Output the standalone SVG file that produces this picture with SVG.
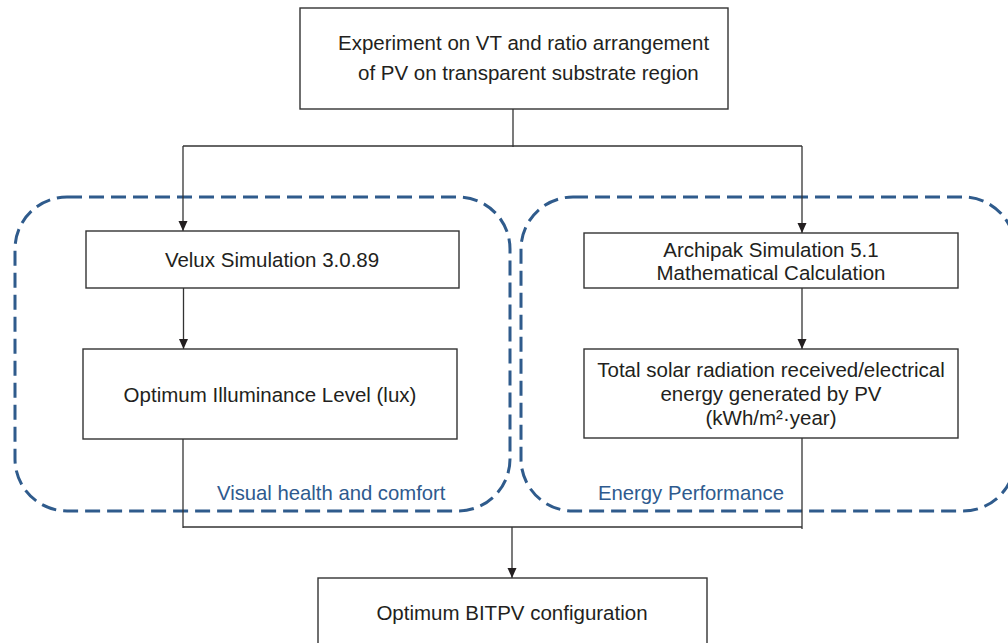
<svg xmlns="http://www.w3.org/2000/svg" width="1008" height="643" viewBox="0 0 1008 643">
<style>
.box{fill:#fff;stroke:#333;stroke-width:1.4}
.t{font-family:"Liberation Sans",Arial,sans-serif;font-size:20.5px;fill:#231f20}
.lbl{font-family:"Liberation Sans",Arial,sans-serif;font-size:20.3px;fill:#2e5a8e}
.grp{fill:none;stroke:#2f5b8c;stroke-width:3;stroke-dasharray:15 7}
.c{fill:none;stroke:#333;stroke-width:1.3}
</style>
<defs>
<marker id="ah" viewBox="0 0 10 10" refX="10" refY="5" markerWidth="10" markerHeight="10" markerUnits="userSpaceOnUse" orient="auto">
<path d="M0,0.5 L10,5 L0,9.5 Z" fill="#231f20"/>
</marker>
</defs>
<g id="groups">
<rect class="grp" x="15" y="197" width="495" height="314" rx="52" ry="52"/>
<rect class="grp" x="521" y="197" width="494" height="314" rx="52" ry="52"/>
</g>
<g id="connectors">
<path class="c" d="M513,109 V147"/>
<path class="c" d="M183,146 H802"/>
<path class="c" d="M183,146 V231" marker-end="url(#ah)"/>
<path class="c" d="M802,146 V233" marker-end="url(#ah)"/>
<path class="c" d="M183.5,288 V349" marker-end="url(#ah)"/>
<path class="c" d="M802,288 V349" marker-end="url(#ah)"/>
<path class="c" d="M183,439 V528"/>
<path class="c" d="M802,438 V529"/>
<path class="c" d="M183,527 H802"/>
<path class="c" d="M512,527 V578" marker-end="url(#ah)"/>
</g>
<g id="n-experiment">
<rect class="box" x="300" y="8" width="428" height="101"/>
<text class="t" x="338" y="50">Experiment on VT and ratio arrangement</text>
<text class="t" x="358" y="80">of PV on transparent substrate region</text>
</g>
<g id="n-velux">
<rect class="box" x="86" y="231" width="373" height="57"/>
<text class="t" x="272" y="267" text-anchor="middle">Velux Simulation 3.0.89</text>
</g>
<g id="n-illuminance">
<rect class="box" x="83" y="349" width="374" height="90"/>
<text class="t" x="270" y="402" text-anchor="middle">Optimum Illuminance Level (lux)</text>
</g>
<g id="n-archipak">
<rect class="box" x="584" y="233" width="374" height="55"/>
<text class="t" x="771" y="257" text-anchor="middle">Archipak Simulation 5.1</text>
<text class="t" x="771" y="280" text-anchor="middle">Mathematical Calculation</text>
</g>
<g id="n-solar">
<rect class="box" x="584" y="349" width="374" height="89"/>
<text class="t" x="771" y="377" text-anchor="middle">Total solar radiation received/electrical</text>
<text class="t" x="771" y="401" text-anchor="middle">energy generated by PV</text>
<text class="t" x="771" y="425" text-anchor="middle">(kWh/m²·year)</text>
</g>
<g id="n-bitpv">
<rect class="box" x="318" y="578" width="389" height="70"/>
<text class="t" x="512" y="620" text-anchor="middle">Optimum BITPV configuration</text>
</g>
<g id="labels">
<text class="lbl" x="217" y="500">Visual health and comfort</text>
<text class="lbl" x="598" y="500">Energy Performance</text>
</g>
</svg>
